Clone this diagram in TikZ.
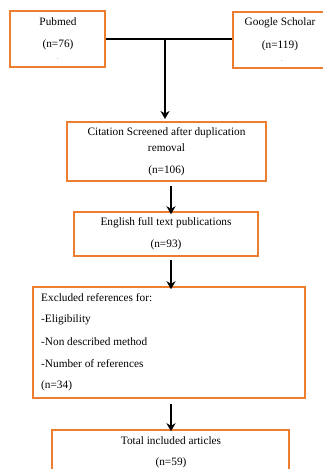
\documentclass[tikz,border=0pt]{standalone}
\usepackage{fontspec}
\setmainfont{Liberation Serif}
\usetikzlibrary{arrows.meta}
\definecolor{boxorange}{HTML}{ED7D31}
\tikzset{
  box/.style={draw=boxorange, line width=1.5pt, rectangle, inner sep=0pt},
  txt/.style={inner sep=0pt, font=\fontsize{11.3}{13}\selectfont, text=black},
  arr/.style={line width=1.6pt, -{Stealth[length=8pt,width=9pt,inset=2.5pt]}},
}
\begin{document}
\begin{tikzpicture}[x=1pt,y=-1pt]
\useasboundingbox[fill=white] (0,0) rectangle (323,469);
% boxes (corner to corner)
\node[box, minimum width=95pt, minimum height=56pt] (pub) at (57.5,39) {};
\node[box, minimum width=100pt, minimum height=56pt] (gs) at (283,40) {};
\node[box, minimum width=199pt, minimum height=59pt] (cit) at (166.5,151.5) {};
\node[box, minimum width=184pt, minimum height=44pt] (eng) at (166,234) {};
\node[box, minimum width=272pt, minimum height=111pt] (exc) at (169,342.5) {};
\node[box, minimum width=237pt, minimum height=60pt] (tot) at (170.5,460) {};
% texts
\node[txt] (t1) at (58,22) {Pubmed};
\node[txt] (t2) at (58,45) {(n=76)};
\node[txt, font=\tiny] (t3) at (58,59) {.};
\node[txt] (t4) at (280,23) {Google Scholar};
\node[txt] (t5) at (280,46) {(n=119)};
\node[txt, font=\tiny] (t6) at (282,61) {.};
\node[txt] (t7) at (166.5,133) {Citation Screened after duplication};
\node[txt] (t8) at (166.5,148) {removal};
\node[txt] (t9) at (166.5,171) {(n=106)};
\node[txt] (t10) at (166,223) {English full text publications};
\node[txt] (t11) at (166,245) {(n=93)};
\node[txt, anchor=west] (t12) at (41,298) {Excluded references for:};
\node[txt, anchor=west] (t13) at (41,320) {-Eligibility};
\node[txt, anchor=west] (t14) at (41,342) {-Non described method};
\node[txt, anchor=west] (t15) at (41,364) {-Number of references};
\node[txt, anchor=west] (t16) at (41,386) {(n=34)};
\node[txt] (t17) at (171,441) {Total included articles};
\node[txt] (t18) at (171,463) {(n=59)};
% connectors
\coordinate (ax) at (171,0);
\coordinate (jx) at (165,39);
\draw[line width=2.6pt] (pub.east |- jx) -- (gs.west |- jx);
\draw[arr] (jx) -- (165,119);
\draw[arr] (cit.south -| ax) ++(0,4) -- ([yshift=-3pt]eng.north -| ax);
\draw[arr] (eng.south -| ax) ++(0,3) -- ([yshift=-3pt]exc.north -| ax);
\draw[arr] (exc.south -| ax) ++(0,5) -- ([yshift=-2pt]tot.north -| ax);
\end{tikzpicture}
\end{document}
